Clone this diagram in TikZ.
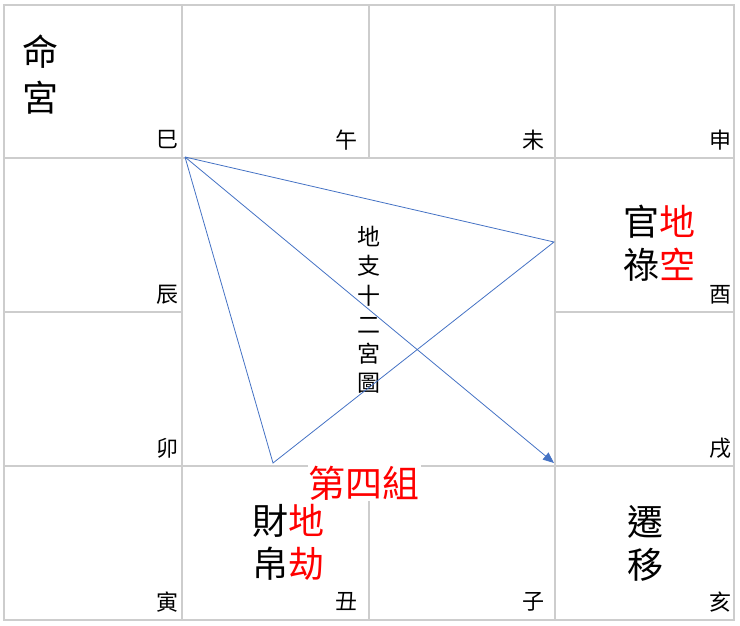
\documentclass[tikz,border=0pt]{standalone}
\usepackage{fontspec}
\setmainfont{Noto Sans CJK TC}
\usepackage{xcolor}
\usetikzlibrary{arrows.meta}

\definecolor{gridgray}{RGB}{205,205,205}
\definecolor{lineblue}{RGB}{68,114,196}

\begin{document}
\begin{tikzpicture}[x=1pt,y=-1pt,
  cell/.style={draw=gridgray,line width=1.4pt},
  branch/.style={font=\fontsize{22}{22}\selectfont,inner sep=0pt},
  palace/.style={font=\fontsize{36}{43}\selectfont,align=center,inner sep=0pt},
  link/.style={draw=lineblue,line width=0.8pt}]

  \useasboundingbox (0,0) rectangle (740,625);

  \draw[cell] (4,5) rectangle (182,158);
  \draw[cell] (182,5) rectangle (369,158);
  \draw[cell] (369,5) rectangle (555,158);
  \draw[cell] (555,5) rectangle (734,158);

  \draw[cell] (4,158) rectangle (182,312);
  \draw[cell] (555,158) rectangle (734,312);
  \draw[cell] (4,312) rectangle (182,466);
  \draw[cell] (555,312) rectangle (734,466);

  \draw[cell] (4,466) rectangle (182,620);
  \draw[cell] (182,466) rectangle (369,620);
  \draw[cell] (369,466) rectangle (555,620);
  \draw[cell] (555,466) rectangle (734,620);

  \node[branch] (si)   at (167,140) {巳};
  \node[branch] (wu)   at (346,140) {午};
  \node[branch] (wei)  at (533,140) {未};
  \node[branch] (shen) at (720,140) {申};
  \node[branch] (chen) at (167,295) {辰};
  \node[branch] (you)  at (720,295) {酉};
  \node[branch] (mao)  at (167,448) {卯};
  \node[branch] (xu)   at (720,448) {戌};
  \node[branch] (yin)  at (167,602) {寅};
  \node[branch] (chou) at (346,602) {丑};
  \node[branch] (zi)   at (533,602) {子};
  \node[branch] (hai)  at (720,602) {亥};

  \node[palace,font=\fontsize{36}{46}\selectfont] (ming) at (41,75) {命\\宮};
  \node[palace] (guanlu) at (659,243) {官\textcolor{red}{地}\\祿\textcolor{red}{空}};
  \node[palace] (caibo) at (288,542) {財\textcolor{red}{地}\\帛\textcolor{red}{劫}};
  \node[palace] (qianyi) at (645,543) {遷\\移};

  \node[font=\fontsize{23}{29.2}\selectfont,align=center,inner sep=0pt] (title) at (369,310) {地\\支\\十\\二\\宮\\圖};
  \node[font=\fontsize{37}{37}\selectfont,text=red,fill=white,inner sep=1pt] (group) at (364,483) {第四組};

  \coordinate (top) at (185,157);
  \coordinate (right) at (554,242);
  \coordinate (low) at (273,463);
  \coordinate (tip) at (554,463);

  \draw[link] (top) -- (right) -- (low) -- (top);
  \draw[link,-{Triangle[length=11pt,width=9pt]}] (top) -- (tip);
\end{tikzpicture}
\end{document}
